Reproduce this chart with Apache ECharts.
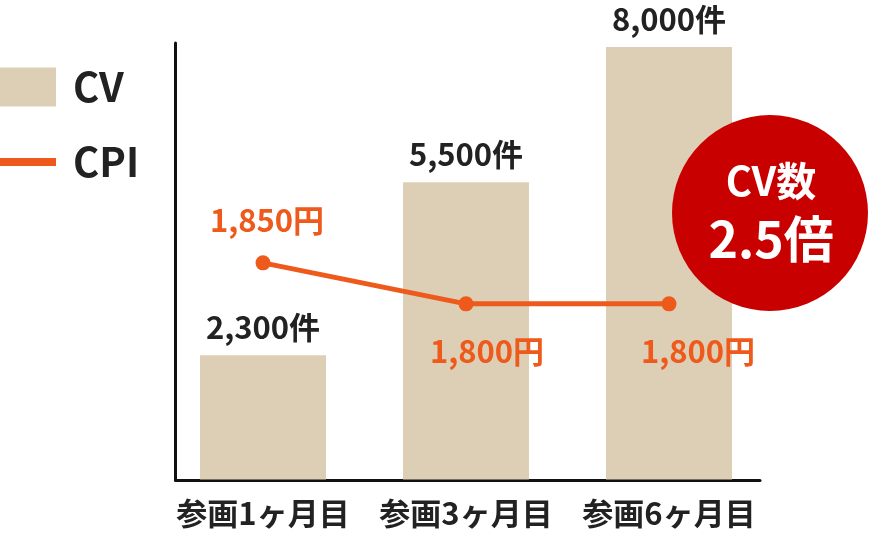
<!DOCTYPE html>
<html>
<head>
<meta charset="utf-8">
<script src="https://cdn.jsdelivr.net/npm/echarts@6/dist/echarts.min.js"></script>
<style>
html,body{margin:0;padding:0;background:#fff;}
#chart{width:872px;height:540px;}
</style>
</head>
<body>
<div id="chart"></div>
<script>
const categories = ['参画1ヶ月目', '参画3ヶ月目', '参画6ヶ月目'];
const cvValues = [2300, 5500, 8000];
const cpiValues = [1850, 1800, 1800];
const badgeLines = ['CV数', '2.5倍'];

const FONT = '"Noto Sans CJK JP", "Noto Sans", sans-serif';
const DARK = '#222222';
const ORANGE = '#ee5a1c';
const BEIGE = '#dccfb5';
const RED = '#c90000';

const fmt = v => v.toLocaleString('en-US');
const cpiLabelLayout = [
  {position: 'top', distance: 20, offset: [4, 0]},
  {position: 'bottom', distance: 24, offset: [21, 0]},
  {position: 'bottom', distance: 24, offset: [29, 0]}
];

const chart = echarts.init(document.getElementById('chart'), null, {renderer: 'canvas'});
chart.setOption({
  backgroundColor: '#ffffff',
  animation: false,
  legend: [
    {
      data: ['CV'], left: 0, top: 67, padding: 0, selectedMode: false,
      icon: 'rect', itemWidth: 56, itemHeight: 39,
      textStyle: {fontSize: 40, fontWeight: 'bold', color: DARK, fontFamily: FONT, padding: [0, 0, 0, 12]}
    },
    {
      data: ['CPI'], left: 0, top: 142, padding: 0, selectedMode: false,
      icon: 'rect', itemWidth: 56, itemHeight: 8,
      textStyle: {fontSize: 40, fontWeight: 'bold', color: DARK, fontFamily: FONT, padding: [0, 0, 0, 12]}
    }
  ],
  grid: [
    {left: 161.5, right: 101.5, top: 47, bottom: 60.5, containLabel: false},
    {left: 175.5, right: 112, top: 43, bottom: 60, containLabel: false}
  ],
  xAxis: [
    {
      type: 'category', gridIndex: 0, data: categories,
      axisLine: {show: false}, axisTick: {show: false},
      axisLabel: {interval: 0, hideOverlap: false, fontSize: 31, fontWeight: 'bold', color: DARK, fontFamily: FONT, margin: 18}
    },
    {
      type: 'value', gridIndex: 1, min: 0, max: 1,
      axisLine: {show: true, lineStyle: {color: '#111', width: 3}},
      axisTick: {show: false}, axisLabel: {show: false}, splitLine: {show: false}
    }
  ],
  yAxis: [
    {type: 'value', gridIndex: 0, min: 0, max: 8000, show: false},
    {type: 'value', gridIndex: 0, min: 1586, max: 2113, show: false},
    {
      type: 'value', gridIndex: 1, min: 0, max: 1,
      axisLine: {show: true, lineStyle: {color: '#111', width: 3}},
      axisTick: {show: false}, axisLabel: {show: false}, splitLine: {show: false}
    }
  ],
  series: [
    {
      name: 'CV', type: 'bar', xAxisIndex: 0, yAxisIndex: 0,
      data: cvValues, barWidth: 126,
      itemStyle: {color: BEIGE},
      label: {
        show: true, position: 'top', distance: 12,
        formatter: p => fmt(p.value) + '件',
        fontSize: 31, fontWeight: 'bold', color: DARK, fontFamily: FONT
      }
    },
    {
      name: 'CPI', type: 'line', xAxisIndex: 0, yAxisIndex: 1,
      data: cpiValues.map((v, i) => ({value: v, label: cpiLabelLayout[i]})),
      symbol: 'circle', symbolSize: 15,
      lineStyle: {color: ORANGE, width: 5},
      itemStyle: {color: ORANGE},
      label: {
        show: true,
        formatter: p => fmt(p.value) + '円',
        fontSize: 31, fontWeight: 'bold', color: ORANGE, fontFamily: FONT
      },
      z: 5
    }
  ],
  graphic: [
    {type: 'circle', z: 100, zlevel: 1, shape: {cx: 770, cy: 213, r: 98}, style: {fill: RED}},
    {type: 'text', z: 101, zlevel: 1, x: 771, y: 181, style: {text: badgeLines[0], fill: '#fff', font: 'bold 40px ' + FONT, textAlign: 'center', textVerticalAlign: 'middle'}},
    {type: 'text', z: 101, zlevel: 1, x: 771, y: 239, style: {text: badgeLines[1], fill: '#fff', font: 'bold 50px ' + FONT, textAlign: 'center', textVerticalAlign: 'middle'}}
  ]
});
</script>
</body>
</html>
